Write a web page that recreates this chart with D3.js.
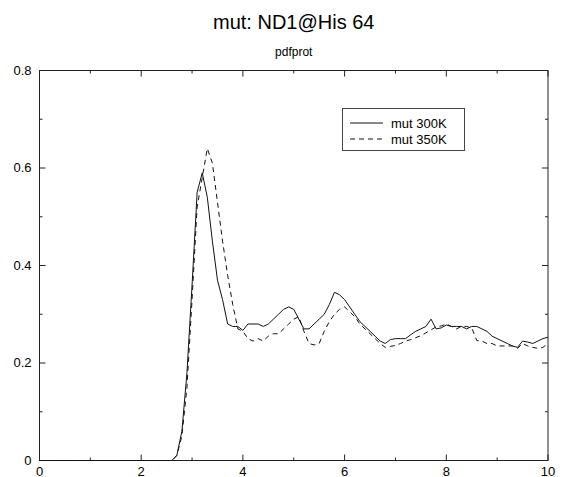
<!DOCTYPE html>
<html><head><meta charset="utf-8">
<script src="https://cdn.jsdelivr.net/npm/d3@7/dist/d3.min.js"></script>
<style>body{margin:0;background:#fff;}svg{display:block;font-family:"Liberation Sans",Arial,sans-serif;}</style>
</head><body>
<script>
const title = "mut: ND1@His 64";
const subtitle = "pdfprot";
const seriesNames = ["mut 300K", "mut 350K"];
const xTicks = [0, 2, 4, 6, 8, 10];
const yTicks = [0, 0.2, 0.4, 0.6, 0.8];
const xValues = d3.range(0, 101).map(i => i / 10);
const mut300 = [
0,0,0,0,0,0,0,0,0,0,
0,0,0,0,0,0,0,0,0,0,
0,0,0,0,0,0,0,0.01,0.06,0.18,
0.36,0.55,0.59,0.54,0.45,0.37,0.33,0.28,0.275,0.275,
0.267,0.28,0.28,0.28,0.275,0.28,0.29,0.30,0.31,0.315,
0.31,0.29,0.27,0.27,0.28,0.29,0.30,0.32,0.345,0.34,
0.33,0.315,0.30,0.285,0.275,0.265,0.255,0.245,0.24,0.248,
0.25,0.25,0.25,0.258,0.265,0.27,0.275,0.29,0.27,0.272,
0.278,0.275,0.275,0.275,0.27,0.275,0.275,0.27,0.265,0.255,
0.25,0.245,0.24,0.235,0.232,0.245,0.243,0.24,0.245,0.25,
0.253];
const mut350 = [
0,0,0,0,0,0,0,0,0,0,
0,0,0,0,0,0,0,0,0,0,
0,0,0,0,0,0,0,0.01,0.05,0.15,
0.33,0.52,0.58,0.64,0.61,0.53,0.45,0.38,0.32,0.27,
0.265,0.25,0.245,0.25,0.245,0.255,0.26,0.26,0.27,0.28,
0.29,0.295,0.265,0.24,0.237,0.24,0.265,0.285,0.30,0.31,
0.315,0.305,0.295,0.28,0.27,0.26,0.25,0.24,0.232,0.234,
0.236,0.24,0.245,0.248,0.252,0.256,0.262,0.268,0.274,0.276,
0.28,0.275,0.27,0.275,0.275,0.272,0.246,0.245,0.24,0.24,
0.235,0.235,0.235,0.235,0.23,0.24,0.235,0.232,0.23,0.232,
0.24];

const W = 563, H = 477;
const m = {l: 39.5, r: 15, t: 70.5, b: 16.5};
const svg = d3.select("body").append("svg").attr("width", W).attr("height", H);
const x = d3.scaleLinear().domain([0, 10]).range([m.l, W - m.r]);
const y = d3.scaleLinear().domain([0, 0.8]).range([H - m.b, m.t]);

svg.append("text").attr("x", (x(0)+x(10))/2).attr("y", 29).attr("text-anchor","middle")
  .attr("font-size", 20).text(title);
svg.append("text").attr("x", (x(0)+x(10))/2).attr("y", 56).attr("text-anchor","middle")
  .attr("font-size", 12).text(subtitle);

// frame
svg.append("rect").attr("x", x(0)).attr("y", y(0.8)).attr("width", x(10)-x(0)).attr("height", y(0)-y(0.8))
  .attr("fill","none").attr("stroke","#222").attr("stroke-width",1);

const xMinor = d3.range(0, 11, 1);
const yMinor = d3.range(0, 9).map(i => i/10);
const g = svg.append("g").attr("stroke","#222").attr("stroke-width",1);
xMinor.forEach(v => {
  const len = (v % 2 === 0) ? 6 : 3;
  g.append("line").attr("x1", x(v)).attr("x2", x(v)).attr("y1", y(0)).attr("y2", y(0)-len);
  g.append("line").attr("x1", x(v)).attr("x2", x(v)).attr("y1", y(0.8)).attr("y2", y(0.8)+len);
});
yMinor.forEach((v,i) => {
  const len = (i % 2 === 0) ? 6 : 3;
  g.append("line").attr("x1", x(0)).attr("x2", x(0)+len).attr("y1", y(v)).attr("y2", y(v));
  g.append("line").attr("x1", x(10)).attr("x2", x(10)-len).attr("y1", y(v)).attr("y2", y(v));
});

svg.append("g").selectAll("text").data(xTicks).join("text")
  .attr("x", d => x(d)).attr("y", y(0) + 15).attr("text-anchor","middle")
  .attr("font-size", 13).text(d => d3.format("")(d));
svg.append("g").selectAll("text").data(yTicks).join("text")
  .attr("x", x(0) - 8).attr("y", d => y(d) + 4).attr("text-anchor","end")
  .attr("font-size", 13).text(d => d === 0 ? "0" : d3.format(".1f")(d));

const line = d3.line().x((d,i) => x(xValues[i])).y(d => y(d));
svg.append("path").datum(mut300).attr("d", line).attr("fill","none")
  .attr("stroke","#111").attr("stroke-width",1);
svg.append("path").datum(mut350).attr("d", line).attr("fill","none")
  .attr("stroke","#111").attr("stroke-width",1).attr("stroke-dasharray","5,4");

// legend
const lg = svg.append("g");
lg.append("rect").attr("x", 342.5).attr("y", 108.5).attr("width", 122).attr("height", 42)
  .attr("fill","#fff").attr("stroke","#444").attr("stroke-width",1);
[0,1].forEach(i => {
  const yy = 123 + i*16;
  lg.append("line").attr("x1", 350).attr("x2", 383).attr("y1", yy).attr("y2", yy)
    .attr("stroke","#111").attr("stroke-width",1).attr("stroke-dasharray", i ? "5,4" : null);
  lg.append("text").attr("x", 391).attr("y", yy + 4.5).attr("font-size", 13).text(seriesNames[i]);
});
</script>
</body></html>
